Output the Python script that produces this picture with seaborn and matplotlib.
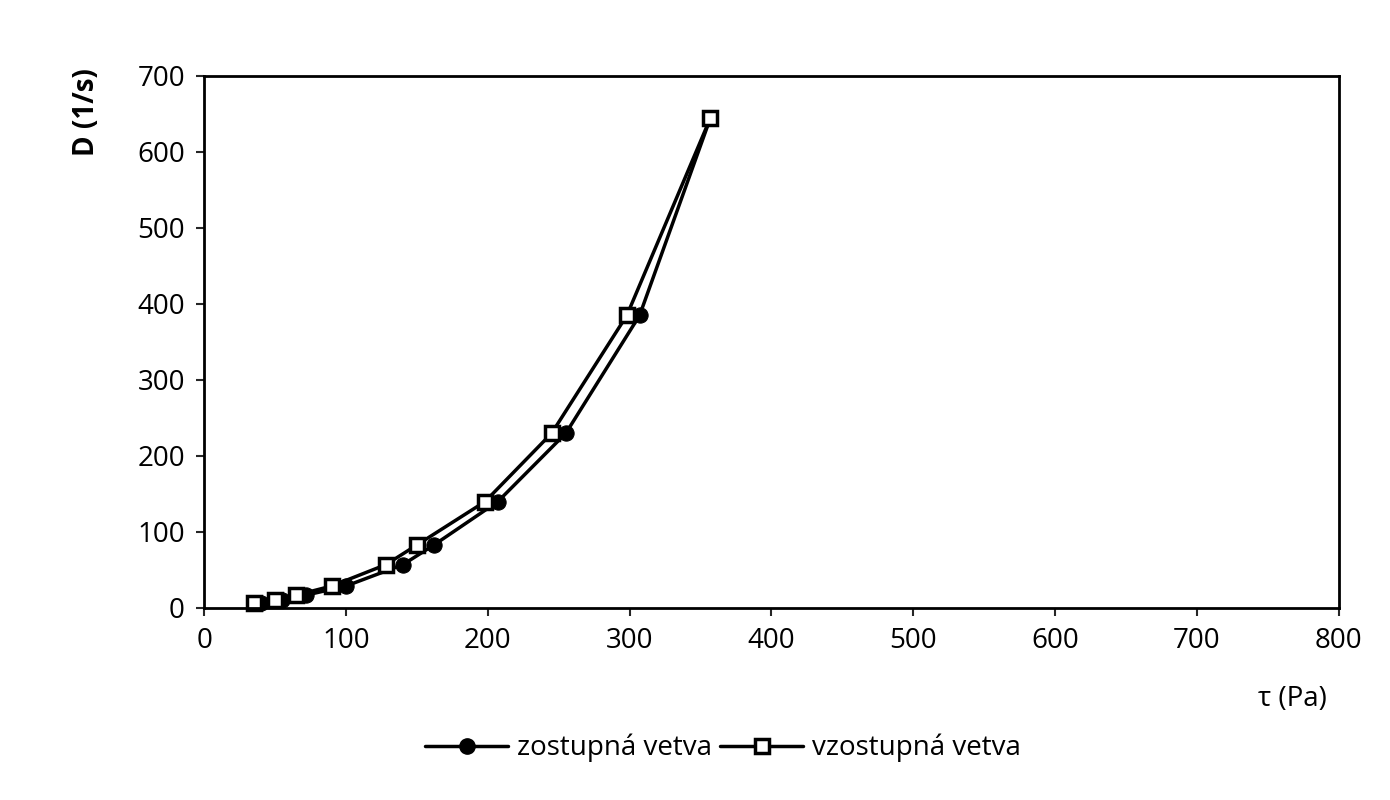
import matplotlib
matplotlib.use("Agg")
import matplotlib.pyplot as plt
from matplotlib.lines import Line2D
import seaborn as sns

# shear stress (Pa) and shear rate (1/s)
tau_down = [40, 55, 72, 100, 140, 162, 207, 255, 307, 357]
d_down = [7, 11, 17, 29, 57, 83, 140, 230, 385, 645]
tau_up = [35, 50, 65, 90, 128, 150, 198, 245, 298, 357]
d_up = [7, 11, 17, 29, 57, 83, 140, 230, 385, 645]

labels = ["zostupná vetva", "vzostupná vetva"]

sns.set_style("white")
plt.rcParams["font.family"] = ["Open Sans", "DejaVu Sans"]
plt.rcParams["text.color"] = "black"

fig = plt.figure(figsize=(13.9, 8), dpi=100)
ax = fig.add_axes([0.147, 0.24, 0.816, 0.665])

sns.lineplot(x=tau_down, y=d_down, sort=False, color="black", linewidth=2.5,
             marker="o", markersize=11, markerfacecolor="black",
             markeredgecolor="black", ax=ax, clip_on=False)
sns.lineplot(x=tau_up, y=d_up, sort=False, color="black", linewidth=2.5,
             marker="s", markersize=10, markerfacecolor="white",
             markeredgecolor="black", markeredgewidth=2.5, ax=ax, clip_on=False)

ax.set_xlim(0, 800)
ax.set_ylim(0, 700)
ax.set_xticks(range(0, 801, 100))
ax.set_yticks(range(0, 701, 100))
ax.tick_params(labelsize=20, labelcolor="black", length=6, direction="out",
               bottom=True, left=True, width=1.5, pad=8)
for s in ax.spines.values():
    s.set_linewidth(2)
    s.set_color("black")

ax.set_xlabel("")
ax.set_ylabel("")
fig.text(0.93, 0.118, "τ (Pa)", fontsize=20, ha="center")
fig.text(0.062, 0.86, "D (1/s)", fontsize=20, fontweight="bold", rotation=90,
         ha="center", va="center")

handles = [
    Line2D([], [], color="black", lw=2.5, marker="o", markersize=11),
    Line2D([], [], color="black", lw=2.5, marker="s", markersize=10,
           markerfacecolor="white", markeredgewidth=2.5),
]
fig.legend(handles, labels, loc="center", bbox_to_anchor=(0.52, 0.065), ncol=2,
           frameon=False, fontsize=20, handlelength=3, columnspacing=0.3,
           handletextpad=0.3)

fig.savefig("out.png", dpi=100)
